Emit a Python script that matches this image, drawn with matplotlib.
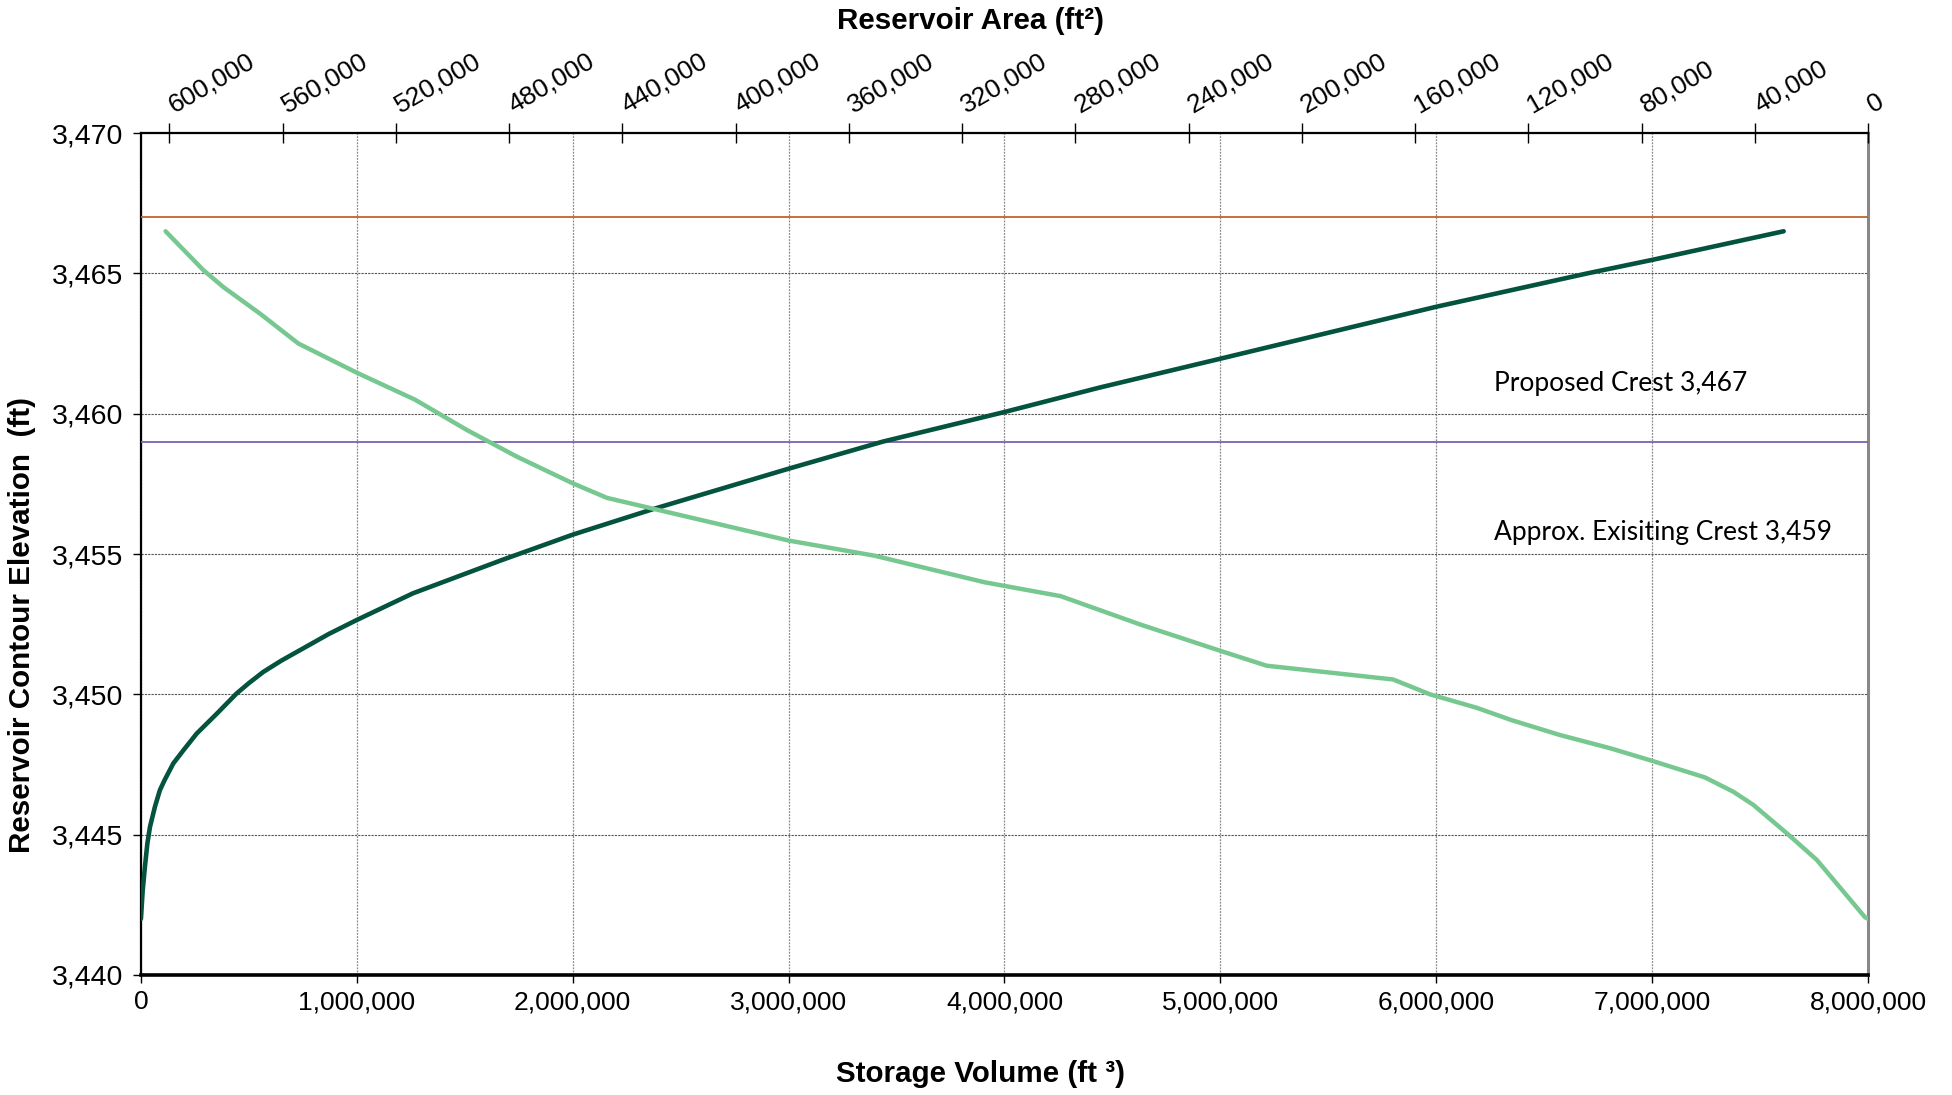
import matplotlib
matplotlib.use("Agg")
import matplotlib.pyplot as plt
from matplotlib.ticker import FuncFormatter, MultipleLocator
from matplotlib.transforms import ScaledTranslation

plt.rcParams.update({
    "font.family": ["Liberation Sans", "DejaVu Sans"],
    "font.size": 19,
})

# stage-storage curve: elevation (ft) vs storage volume (ft^3)
stor_elev = [3442.0, 3443.0, 3443.86, 3444.7, 3445.28, 3446.0, 3446.59, 3446.95,
             3447.54, 3448.0, 3448.6, 3449.3, 3450.03, 3450.4, 3450.8, 3451.2,
             3451.64, 3452.15, 3452.65, 3453.6, 3454.78, 3455.69, 3456.6, 3458.04,
             3459.0, 3460.06, 3460.93, 3461.96, 3463.81, 3465.0, 3465.48, 3466.5]
stor_vol = [0, 8000, 18500, 30000, 42000, 65000, 88000, 110000,
            150000, 196000, 258000, 350000, 443000, 500000, 567000, 650000,
            752000, 870000, 1000000, 1260000, 1670000, 2000000, 2372000, 3000000,
            3434000, 4000000, 4440000, 5000000, 6000000, 6700000, 7000000, 7609000]

# stage-area curve: elevation (ft) vs reservoir surface area (ft^2)
area_elev = [3466.5, 3465.12, 3464.52, 3463.57, 3462.5, 3461.46, 3460.5, 3459.42,
             3458.47, 3457.52, 3457.0, 3455.48, 3454.94, 3453.99, 3453.5, 3452.49,
             3451.55, 3451.02, 3450.53, 3450.0, 3449.52, 3449.08, 3448.55, 3448.08,
             3447.63, 3447.04, 3446.53, 3446.06, 3445.05, 3444.1, 3442.06, 3442.0]
area_ft2 = [601300, 588000, 581000, 568000, 554400, 533750, 513200, 494900,
            477250, 457500, 445400, 381250, 350900, 311900, 285200, 257100,
            228750, 212400, 167750, 154700, 138200, 125900, 108800, 91100,
            76250, 57600, 47600, 40500, 28700, 18100, 1100, 0]

proposed_crest = 3467
existing_crest = 3459

DARK = "#03533F"
LIGHT = "#77C890"

fig = plt.figure(figsize=(19.52, 10.95), dpi=100)
ax = fig.add_axes([0.0722, 0.1096, 0.8848, 0.7689])

ax.plot(stor_vol, stor_elev, color=DARK, lw=3.3, solid_capstyle="round",
        solid_joinstyle="round", zorder=4)
ax.axhline(proposed_crest, color="#C0652A", lw=1.3, zorder=3)
ax.axhline(existing_crest, color="#7B61B0", lw=1.3, zorder=3)

ax.set_xlim(0, 8_000_000)
ax.set_ylim(3440, 3470)
ax.xaxis.set_major_locator(MultipleLocator(1_000_000))
ax.yaxis.set_major_locator(MultipleLocator(5))
comma = FuncFormatter(lambda v, p: f"{v:,.0f}")
ax.xaxis.set_major_formatter(comma)
ax.yaxis.set_major_formatter(comma)
ax.tick_params(axis="x", direction="out", length=6, width=1, pad=5, labelsize=19)
ax.tick_params(axis="y", direction="out", length=6, width=1, pad=7, labelsize=20.5)

ax.grid(True, axis="y", color="#555555", ls=(0, (2, 1)), lw=0.8)
ax.grid(True, axis="x", color="#8a8a8a", ls=(0, (1.5, 1)), lw=0.9)
ax.set_axisbelow(True)

ax.spines["left"].set_linewidth(1.6)
ax.spines["bottom"].set_linewidth(2.6)
ax.spines["right"].set_color("#888888")
ax.spines["right"].set_linewidth(2.2)
ax.spines["top"].set_linewidth(1.6)

ax.set_xlabel("Storage Volume (ft \u00b3)", fontsize=21.3, fontweight="bold")
ax.set_ylabel("Reservoir Contour Elevation  (ft)", fontsize=21.3, fontweight="bold")
ax.xaxis.set_label_coords(0.486, -0.1176)
ax.xaxis.label.set_va("center")
ax.yaxis.set_label_coords(-0.0689, 0.4157)
ax.yaxis.label.set_va("center")

note_font = ["Lato", "DejaVu Sans"]
ax.text(6_267_000, 3461.08, "Proposed Crest 3,467", fontsize=19,
        family=note_font, va="center", ha="left")
ax.text(6_267_000, 3455.76, "Approx. Exisiting Crest 3,459", fontsize=19,
        family=note_font, va="center", ha="left")

# reservoir area on a reversed secondary x axis along the top
ax2 = ax.twiny()
ax2.plot(area_ft2, area_elev, color=LIGHT, lw=3.2, solid_capstyle="round",
         solid_joinstyle="round", zorder=4)
ax2.set_xlim(610_000, 0)
ax2.xaxis.set_major_locator(MultipleLocator(40_000))
ax2.xaxis.set_major_formatter(comma)
ax2.tick_params(axis="x", direction="inout", length=14, width=1, pad=3, labelsize=19)
nudge = ScaledTranslation(5 / 72, 1 / 72, fig.dpi_scale_trans)
for lab in ax2.get_xticklabels():
    lab.set_rotation(30)
    lab.set_ha("left")
    lab.set_va("bottom")
    lab.set_rotation_mode("anchor")
    lab.set_transform(lab.get_transform() + nudge)
for s in ax2.spines.values():
    s.set_visible(False)
ax2.set_xlabel("Reservoir Area (ft\u00b2)", fontsize=21.3, fontweight="bold")
ax2.xaxis.set_label_coords(0.4806, 1.133)
ax2.xaxis.label.set_va("center")

fig.savefig("out.png", dpi=100)
